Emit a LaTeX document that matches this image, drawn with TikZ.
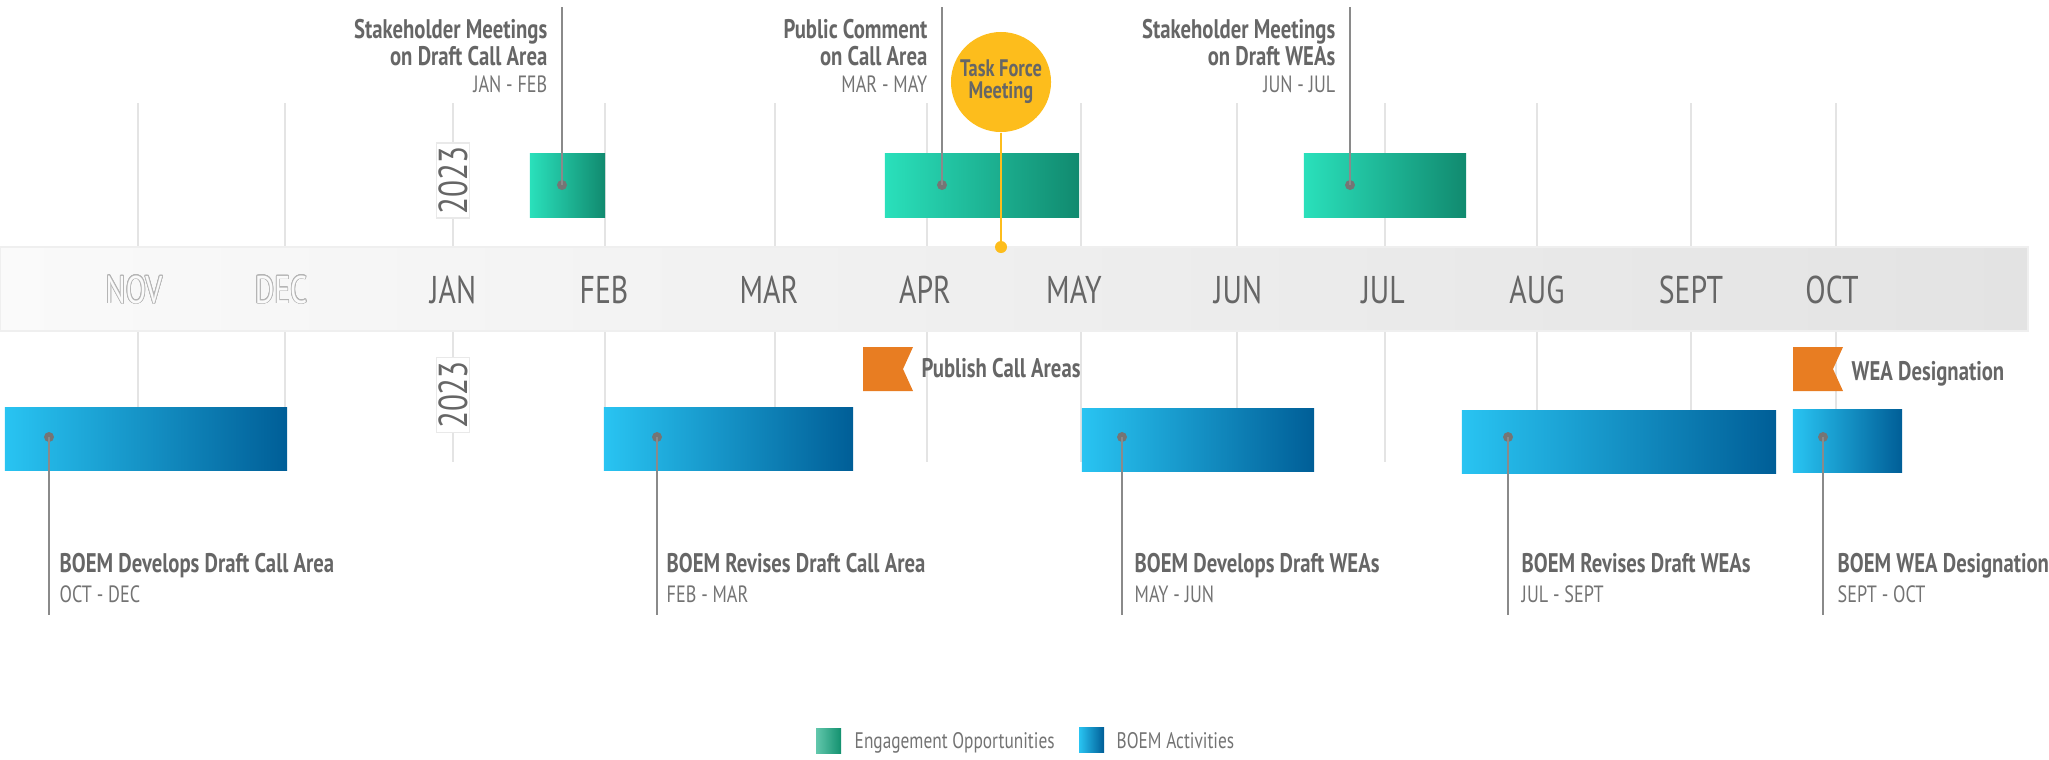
\documentclass[tikz,border=0pt]{standalone}
\usepackage{fontspec}
\setmainfont[FakeStretch=0.77]{PT Sans}
\usepackage[copies]{contour}
\usetikzlibrary{positioning}

\definecolor{txtgray}{HTML}{666666}
\definecolor{dategray}{HTML}{737373}
\definecolor{engL}{HTML}{2AE0BB}
\definecolor{engR}{HTML}{118A6F}
\definecolor{legengL}{HTML}{62C7AC}
\definecolor{legengR}{HTML}{13916F}
\definecolor{boemL}{HTML}{29C4F2}
\definecolor{boemR}{HTML}{005E97}
\definecolor{flagorange}{HTML}{E87D22}
\definecolor{tfyellow}{HTML}{FDBD1C}
\definecolor{bandL}{HTML}{FAFAFA}
\definecolor{bandR}{HTML}{E3E3E3}
\definecolor{gridgray}{HTML}{E4E4E4}
\definecolor{outgray}{HTML}{B5B5B5}
\definecolor{conngray}{HTML}{8A8A8A}

\contourlength{0.22pt}
\contournumber{20}

\newcommand{\datetext}[1]{\textcolor{dategray}{\fontsize{6.7pt}{7.6pt}\selectfont #1}}

\tikzset{
    engbox/.style={rectangle, left color=engL, right color=engR, minimum height=0.64cm, inner sep=0pt},
    boembox/.style={rectangle, left color=boemL, right color=boemR, minimum height=0.63cm, inner sep=0pt},
    boxdot/.style={circle, fill=conngray!85!black, minimum size=0.1cm, inner sep=0pt},
    conn/.style={draw=conngray, line width=0.55pt},
    gridline/.style={draw=gridgray, line width=0.8pt},
    toplabel/.style={align=right, anchor=north east, inner sep=0pt, text=txtgray, font=\fontsize{7.65pt}{7.6pt}\selectfont},
    botlabel/.style={align=left, anchor=north west, inner sep=0pt, text=txtgray, font=\fontsize{7.65pt}{8.5pt}\selectfont},
    monthlabel/.style={anchor=base, inner sep=0pt, text=txtgray, font=\fontsize{11pt}{13pt}\selectfont},
    yearbox/.style={rotate=90, fill=white, draw=gridgray!80, line width=0.4pt, minimum width=0.75cm, minimum height=0.33cm, inner sep=0pt, text=txtgray, font=\fontsize{11.5pt}{13pt}\selectfont},
    flagshape/.style={fill=flagorange},
    flaglabel/.style={anchor=base west, inner sep=0pt, text=txtgray, font=\bfseries\fontsize{7.65pt}{8pt}\selectfont},
    tfcircle/.style={circle, fill=tfyellow, minimum size=1cm, inner sep=0pt, align=center, text=txtgray, font=\bfseries\fontsize{6.8pt}{6.3pt}\selectfont},
    tfdot/.style={circle, fill=tfyellow, minimum size=0.12cm, inner sep=0pt},
    legtext/.style={anchor=base west, inner sep=0pt, text=dategray, font=\fontsize{6.4pt}{8pt}\selectfont},
}

\begin{document}
\begin{tikzpicture}[x=0.01cm,y=-0.01cm]
    \useasboundingbox (0,0) rectangle (2049,759);
    % month grid
    \foreach \mx in {138,285,453,605,775,927,1081,1237,1385,1537,1691,1836}
        {
            \draw[gridline] (\mx,103)--(\mx,247);
            \draw[gridline] (\mx,331)--(\mx,462);
        }
    % timeline band
    \shade[left color=bandL, right color=bandR, draw=gridgray!60, line width=0.4pt] (0,247) rectangle (2028,331);
    \node[monthlabel] (m-nov) at (134,303) {\contour{outgray}{\textcolor{bandL}{NOV}}};
    \node[monthlabel] (m-dec) at (281,303) {\contour{outgray}{\textcolor{bandL}{DEC}}};
    \foreach \lx/\mname in {453/JAN,604/FEB,769/MAR,925/APR,1074/MAY,1238/JUN,1383/JUL,1537/AUG,1691/SEPT,1832/OCT}
        {
            \node[monthlabel] (m-\mname) at (\lx,303) {\mname};
        }
    \node[yearbox] (y-top) at (453,180.5) {2023};
    \node[yearbox] (y-bot) at (453,395) {2023};

    % engagement opportunities
    \node[engbox, minimum width=0.75cm] (g1) at (567.5,185) {};
    \node[engbox, minimum width=1.94cm] (g2) at (982,185) {};
    \node[engbox, minimum width=1.62cm] (g3) at (1385,185) {};
    \coordinate (g1-top) at (562,7);
    \coordinate (g2-top) at (942,7);
    \coordinate (g3-top) at (1350,7);
    \node[boxdot] (g1-dot) at (562,185) {};
    \node[boxdot] (g2-dot) at (942,185) {};
    \node[boxdot] (g3-dot) at (1350,185) {};
    \draw[conn] (g1-dot.center)--(g1-top);
    \draw[conn] (g2-dot.center)--(g2-top);
    \draw[conn] (g3-dot.center)--(g3-top);
    \node[toplabel] (g1-text) at (548,19) {\textbf{Stakeholder Meetings}\\\textbf{on Draft Call Area}\\\datetext{JAN - FEB}};
    \node[toplabel] (g2-text) at (928,19) {\textbf{Public Comment}\\\textbf{on Call Area}\\\datetext{MAR - MAY}};
    \node[toplabel] (g3-text) at (1336,19) {\textbf{Stakeholder Meetings}\\\textbf{on Draft WEAs}\\\datetext{JUN - JUL}};

    % task force
    \node[tfcircle] (tf) at (1001,82) {Task Force\\Meeting};
    \node[tfdot] (tf-dot) at (1001,247) {};
    \draw[tfyellow, line width=0.6pt] (tf)--(tf-dot.center);

    % BOEM activities
    \node[boembox, minimum width=2.82cm] (b1) at (146,438.5) {};
    \node[boembox, minimum width=2.49cm] (b2) at (728.5,438.5) {};
    \node[boembox, minimum width=2.32cm] (b3) at (1198,439.5) {};
    \node[boembox, minimum width=3.14cm] (b4) at (1619,442) {};
    \node[boembox, minimum width=1.09cm] (b5) at (1847.5,441) {};
    \foreach \bn/\bx in {b1/49,b2/657,b3/1122,b4/1508,b5/1823}
        {
            \node[boxdot] (\bn-dot) at (\bx,437) {};
            \coordinate (\bn-end) at (\bx,615);
            \draw[conn] (\bn-dot.center)--(\bn-end);
        }
    \node[botlabel] (b1-text) at (59,553) {\textbf{BOEM Develops Draft Call Area}\\\datetext{OCT - DEC}};
    \node[botlabel] (b2-text) at (666,553) {\textbf{BOEM Revises Draft Call Area}\\\datetext{FEB - MAR}};
    \node[botlabel] (b3-text) at (1134,553) {\textbf{BOEM Develops Draft WEAs}\\\datetext{MAY - JUN}};
    \node[botlabel] (b4-text) at (1521,553) {\textbf{BOEM Revises Draft WEAs}\\\datetext{JUL - SEPT}};
    \node[botlabel] (b5-text) at (1837,553) {\textbf{BOEM WEA Designation}\\\datetext{SEPT - OCT}};

    % milestones
    \fill[flagshape] (863,347)--(913,347)--(903,369)--(913,391)--(863,391)--cycle;
    \fill[flagshape] (1793,347)--(1843,347)--(1833,369)--(1843,391)--(1793,391)--cycle;
    \node[flaglabel] (f1-text) at (921,377) {Publish Call Areas};
    \node[flaglabel] (f2-text) at (1851,380) {WEA Designation};

    % legend
    \node[rectangle, left color=legengL, right color=legengR, minimum size=0.25cm, inner sep=0pt] (leg-eng) at (828.5,740.5) {};
    \node[legtext] (leg-eng-text) at (854,748) {Engagement Opportunities};
    \node[rectangle, left color=boemL, right color=boemR, minimum size=0.25cm, inner sep=0pt] (leg-boem) at (1091.5,739.5) {};
    \node[legtext] (leg-boem-text) at (1116,748) {BOEM Activities};
\end{tikzpicture}
\end{document}
